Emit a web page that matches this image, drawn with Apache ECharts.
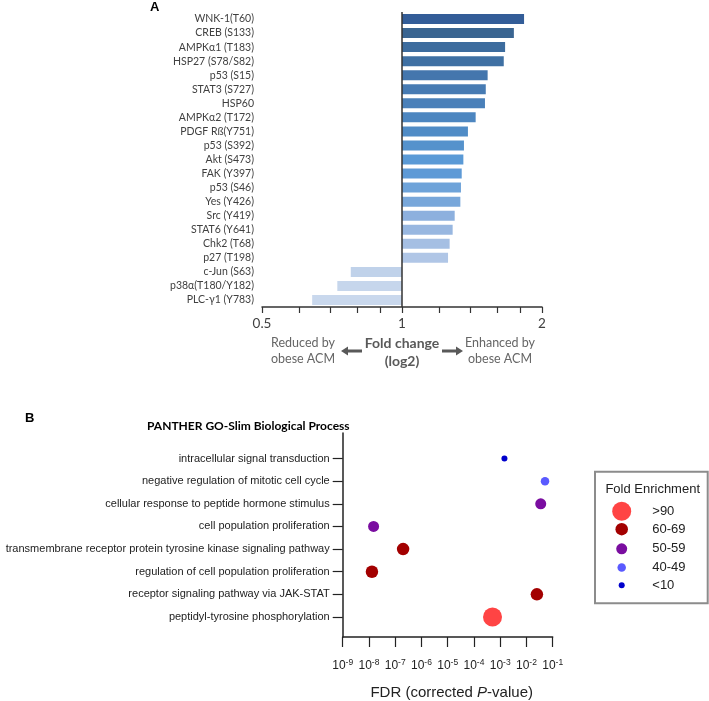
<!DOCTYPE html>
<html><head><meta charset="utf-8">
<script src="https://cdn.jsdelivr.net/npm/echarts@6/dist/echarts.min.js"></script>
<style>html,body{margin:0;padding:0;background:#fff}#c{width:709px;height:701px}</style>
</head><body><div id="c"></div>
<script>
// ---------- Panel A data ----------
const proteins = ['WNK-1(T60)','CREB (S133)','AMPK\u03b11 (T183)','HSP27 (S78/S82)','p53 (S15)','STAT3 (S727)','HSP60',
  'AMPK\u03b12 (T172)','PDGF R\u00df(Y751)','p53 (S392)','Akt (S473)','FAK (Y397)','p53 (S46)','Yes (Y426)','Src (Y419)',
  'STAT6 (Y641)','Chk2 (T68)','p27 (T198)','c-Jun (S63)','p38\u03b1(T180/Y182)','PLC-\u03b31 (Y783)'];
const foldChange = [1.83,1.74,1.666,1.655,1.528,1.514,1.508,1.44,1.386,1.359,1.355,1.344,1.339,1.335,1.298,1.285,1.266,1.256,0.776,0.726,0.641];
const foldTickValues = [0.5,0.6,0.7,0.8,0.9,1,1.2,1.4,1.6,1.8,2];
const foldLabelValues = [0.5,1,2];

// ---------- Panel B data ----------
const processes = ['intracellular signal transduction','negative regulation of mitotic cell cycle',
  'cellular response to peptide hormone stimulus','cell population proliferation',
  'transmembrane receptor protein tyrosine kinase signaling pathway','regulation of cell population proliferation',
  'receptor signaling pathway via JAK-STAT','peptidyl-tyrosine phosphorylation'];
const fdr = [1.45e-3, 5.1e-2, 3.5e-2, 1.5e-8, 2.0e-7, 1.3e-8, 2.5e-2, 5.1e-4];
const foldGroup = ['<10','40-49','50-59','50-59','60-69','60-69','60-69','>90'];
const legendGroups = ['>90','60-69','50-59','40-49','<10'];
const fdrTickExponents = [-9,-8,-7,-6,-5,-4,-3,-2,-1];

// ---------- styles ----------
const barColors = ['#335D98','#3A6591','#3D6C9E','#3F70A3','#4476AD','#477BB3','#4A80B9','#4D86C0','#508CC6','#5592CC',
  '#5A9AD6','#5E9AD6','#6EA3D9','#78A7DA','#8DB0DE','#98B7E0','#A5BFE3','#B0C6E6','#C0D2EA','#C6D6EC','#C9D8ED'];
const groupColors = {'>90':'#FF4444','60-69':'#A30000','50-59':'#7A0DA0','40-49':'#5A5AFF','<10':'#0000CC'};
const groupSizes = {'>90':19,'60-69':12.5,'50-59':11,'40-49':8.5,'<10':6};
const legendY = [511.7,532.7,552.3,571,588.7];
const CAL = 'Lato,"Liberation Sans",sans-serif';
const ARIAL = '"Liberation Sans",Arial,sans-serif';

const nB = processes.length;
const chart = echarts.init(document.getElementById('c'), null, {renderer:'canvas'});

const scatterSeries = legendGroups.map(g => ({
  type:'scatter', name:g, xAxisIndex:1, yAxisIndex:1,
  symbol:'circle', symbolSize: groupSizes[g],
  itemStyle:{color:groupColors[g], opacity:1},
  data: processes.map((p,i)=> foldGroup[i]===g ? [Math.log10(fdr[i]), nB - i] : null).filter(d=>d)
}));

const legends = legendGroups.map((g,i)=>{
  const s = groupSizes[g];
  return {
    data:[g], left: 621.7 - s/2, top: legendY[i]-10, itemWidth:s, itemHeight:20, padding:0, itemGap:0,
    selectedMode:false, icon:'circle',
    textStyle:{fontSize:13, color:'#222', fontFamily:ARIAL, padding:[0,0,0, 652.3-(621.7+s/2+5)]}
  };
});

const option = {
  animation:false,
  grid:[
    {left:262, width:280, top:12, height:295},
    {left:342.7, width:210, top:433, height:210.3}
  ],
  legend: legends,
  xAxis:[
    {type:'value', gridIndex:0, min:-1, max:1,
      axisLine:{show:true, onZero:false, lineStyle:{color:'#333', width:1.5}},
      axisTick:{show:true, length:6, customValues: foldTickValues.map(v=>Math.log2(v)), lineStyle:{color:'#333', width:1.2}},
      axisLabel:{show:true, customValues: foldLabelValues.map(v=>Math.log2(v)), margin:10,
        formatter: v => String(Math.round(Math.pow(2,v)*10)/10), fontSize:13.5, color:'#404040', fontFamily:CAL},
      splitLine:{show:false}},
    {type:'value', gridIndex:1, min:-9, max:-1, interval:1,
      axisLine:{show:true, onZero:false, lineStyle:{color:'#222', width:1.5}},
      axisTick:{show:true, length:10, lineStyle:{color:'#222', width:1.2}},
      axisLabel:{show:true, margin:21, showMinLabel:true, showMaxLabel:true,
        formatter: v => '{a|10}{s|' + v + '}',
        rich:{a:{fontSize:12, color:'#222', fontFamily:ARIAL, lineHeight:15}, s:{fontSize:8.5, color:'#222', fontFamily:ARIAL, lineHeight:9, verticalAlign:'top'}}},
      splitLine:{show:false},
      name:'{a|FDR (corrected }{i|P}{a|-value)}', nameLocation:'middle', nameGap:48,
      nameTextStyle:{padding:[0,0,0,8], rich:{a:{fontSize:15, color:'#222', fontFamily:ARIAL}, i:{fontSize:15, color:'#222', fontFamily:ARIAL, fontStyle:'italic'}}}}
  ],
  yAxis:[
    {type:'category', gridIndex:0, data:proteins, inverse:true,
      axisLine:{show:false, onZero:false}, axisTick:{show:false},
      axisLabel:{margin:8, interval:0, fontSize:10.5, color:'#404040', fontFamily:CAL}},
    {type:'value', gridIndex:1, min:0.117, max:9.127,
      axisLine:{show:true, onZero:false, lineStyle:{color:'#222', width:1.5}},
      axisTick:{show:true, length:10, customValues: processes.map((p,i)=>nB-i), lineStyle:{color:'#222', width:1.2}},
      axisLabel:{show:true, margin:13, customValues: processes.map((p,i)=>nB-i),
        formatter: v => processes[nB - Math.round(v)], fontSize:11, color:'#222', fontFamily:ARIAL},
      splitLine:{show:false}}
  ],
  series:[
    {type:'bar', xAxisIndex:0, yAxisIndex:0, barWidth:10,
      data: foldChange.map((v,i)=>({value:Math.log2(v), itemStyle:{color:barColors[i]}})),
      markLine:{silent:true, symbol:['none','none'], label:{show:false},
        lineStyle:{color:'#333', width:1.5, type:'solid'}, data:[{xAxis:0}]}},
    ...scatterSeries
  ],
  graphic:[
    {type:'text', left:150, top:1, style:{text:'A', fontSize:13, fontWeight:'bold', fill:'#000', fontFamily:ARIAL}},
    {type:'text', left:25, top:412, style:{text:'B', fontSize:13, fontWeight:'bold', fill:'#000', fontFamily:ARIAL}},
    {type:'text', x:303, y:351, style:{text:'Reduced by\nobese ACM', fontSize:12.5, lineHeight:16, fill:'#666', fontFamily:CAL, align:'center', verticalAlign:'middle'}},
    {type:'text', x:500, y:351, style:{text:'Enhanced by\nobese ACM', fontSize:12.5, lineHeight:16, fill:'#666', fontFamily:CAL, align:'center', verticalAlign:'middle'}},
    {type:'text', x:402, y:352, style:{text:'Fold change\n(log2)', fontSize:14, lineHeight:18, fontWeight:'bold', fill:'#595959', fontFamily:CAL, align:'center', verticalAlign:'middle'}},
    {type:'polygon', shape:{points:[[341,351],[348,346.5],[348,349.6],[362,349.6],[362,352.4],[348,352.4],[348,355.5]]}, style:{fill:'#595959'}},
    {type:'polygon', shape:{points:[[463,351],[456,346.5],[456,349.6],[442,349.6],[442,352.4],[456,352.4],[456,355.5]]}, style:{fill:'#595959'}},
    {type:'text', left:147, top:420, style:{text:'PANTHER GO-Slim Biological Process', fontSize:12, fontWeight:'bold', fill:'#000', fontFamily:CAL}},
    {type:'rect', shape:{x:595, y:471.7, width:112.7, height:131.6}, style:{fill:'none', stroke:'#8c8c8c', lineWidth:2}},
    {type:'text', x:652.7, y:489.3, style:{text:'Fold Enrichment', fontSize:13, fill:'#222', fontFamily:ARIAL, align:'center', verticalAlign:'middle'}}
  ]
};
chart.setOption(option);
</script></body></html>
